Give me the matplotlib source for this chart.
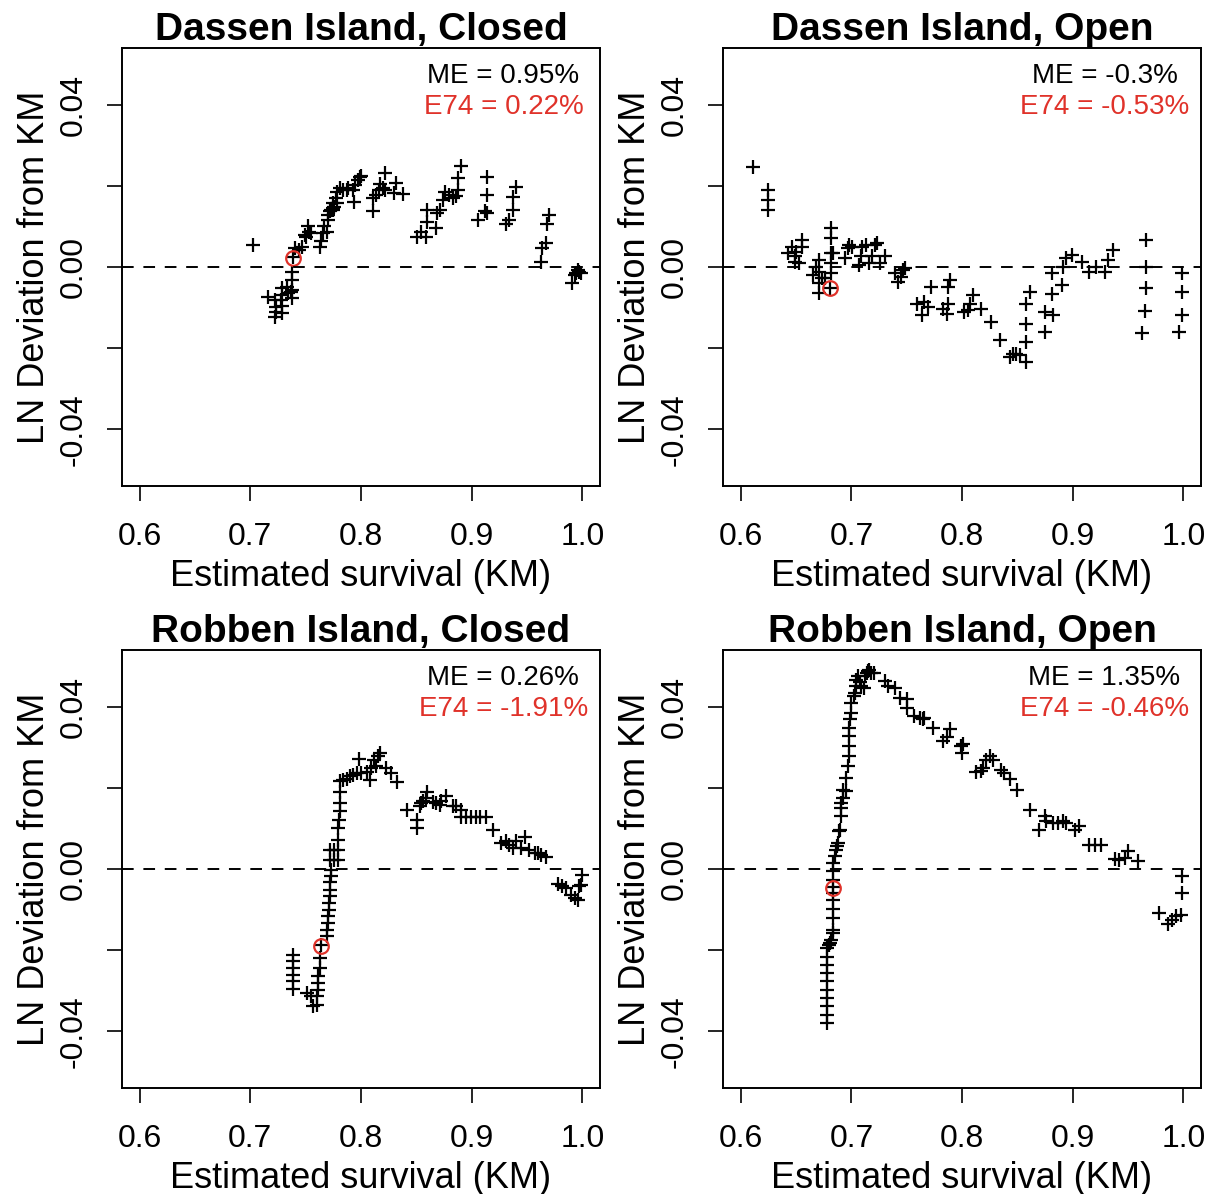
import numpy as np
import matplotlib
matplotlib.use("Agg")
import matplotlib.pyplot as plt

plt.rcParams['font.family'] = ['Liberation Sans', 'DejaVu Sans']

# ---- data ----
titles = ["Dassen Island, Closed", "Dassen Island, Open",
          "Robben Island, Closed", "Robben Island, Open"]
me_labels = ["ME = 0.95%", "ME = -0.3%", "ME = 0.26%", "ME = 1.35%"]
e74_labels = ["E74 = 0.22%", "E74 = -0.53%", "E74 = -1.91%", "E74 = -0.46%"]

# E74 point (red circle) per panel
e74_x = [0.739, 0.681, 0.764, 0.683]
e74_y = [0.0022, -0.0053, -0.0191, -0.0046]

dassen_closed_x = [
    0.702, 0.739, 0.740, 0.744, 0.747, 0.749, 0.752, 0.750, 0.755, 0.753,
    0.738, 0.738, 0.738, 0.738, 0.737, 0.733, 0.734, 0.729, 0.729, 0.728,
    0.729, 0.729, 0.723, 0.723, 0.722, 0.722, 0.716,
    0.763, 0.764, 0.766, 0.769, 0.767, 0.770, 0.770, 0.772, 0.775, 0.776, 0.778,
    0.773, 0.775, 0.775, 0.777, 0.778, 0.781, 0.784, 0.787, 0.788, 0.793,
    0.794, 0.795, 0.797, 0.799, 0.800,
    0.811, 0.811, 0.814, 0.816, 0.817, 0.820, 0.822, 0.822, 0.832, 0.830, 0.838,
    0.851, 0.854, 0.859, 0.860, 0.860, 0.868, 0.869, 0.871, 0.874, 0.876,
    0.880, 0.883, 0.886, 0.888, 0.888, 0.890,
    0.906, 0.912, 0.914, 0.914, 0.914,
    0.931, 0.934, 0.937, 0.937, 0.940,
    0.963, 0.964, 0.967, 0.968, 0.970,
    0.991, 0.993, 0.994, 0.996, 0.997, 0.999,
]
dassen_closed_y = [
    0.0054, 0.0024, 0.0046, 0.0042, 0.0050, 0.0079, 0.0100, 0.0075, 0.0083, 0.0087,
    -0.0012, -0.0032, -0.0057, -0.0077, -0.0061, -0.0049, -0.0065, -0.0053, -0.0069, -0.0081,
    -0.0096, -0.0113, -0.0098, -0.0110, -0.0124, -0.0081, -0.0073,
    0.0050, 0.0063, 0.0083, 0.0087, 0.0100, 0.0116, 0.0128, 0.0137, 0.0141, 0.0149, 0.0159,
    0.0141, 0.0145, 0.0157, 0.0170, 0.0186, 0.0194, 0.0190, 0.0190, 0.0194, 0.0190,
    0.0161, 0.0202, 0.0215, 0.0223, 0.0225,
    0.0137, 0.0170, 0.0178, 0.0190, 0.0205, 0.0194, 0.0190, 0.0231, 0.0207, 0.0182, 0.0180,
    0.0075, 0.0087, 0.0075, 0.0112, 0.0141, 0.0095, 0.0133, 0.0141, 0.0165, 0.0186,
    0.0178, 0.0170, 0.0174, 0.0190, 0.0219, 0.0248,
    0.0116, 0.0137, 0.0133, 0.0178, 0.0223,
    0.0106, 0.0116, 0.0141, 0.0172, 0.0198,
    0.0013, 0.0046, 0.0058, 0.0106, 0.0128,
    -0.0039, -0.0020, -0.0014, -0.0007, -0.0012, -0.0014,
]

dassen_open_x = [
    0.611, 0.625, 0.625, 0.625,
    0.643, 0.646, 0.649, 0.649, 0.650, 0.653, 0.655, 0.655,
    0.665, 0.668, 0.671, 0.671, 0.671, 0.671, 0.673, 0.676, 0.681,
    0.682, 0.682, 0.682, 0.682, 0.682, 0.683,
    0.694, 0.697, 0.698, 0.701, 0.707, 0.709, 0.710, 0.713, 0.716, 0.719,
    0.721, 0.723, 0.726, 0.730,
    0.739, 0.742, 0.745, 0.747, 0.748,
    0.759, 0.764, 0.766, 0.769, 0.772, 0.783, 0.786, 0.787, 0.789, 0.787,
    0.802, 0.805, 0.807, 0.810, 0.817, 0.826,
    0.834, 0.843, 0.846, 0.849, 0.852, 0.858, 0.858, 0.858, 0.858, 0.861,
    0.875, 0.875, 0.882, 0.881, 0.881, 0.890, 0.891, 0.894, 0.899, 0.908,
    0.915, 0.921, 0.929, 0.932, 0.936,
    0.966, 0.966, 0.966, 0.965, 0.963,
    0.999, 0.999, 0.999, 0.996,
]
dassen_open_y = [
    0.0247, 0.0189, 0.0166, 0.0140,
    0.0034, 0.0050, 0.0026, 0.0013, 0.0038, 0.0009, 0.0050, 0.0067,
    -0.0020, 0.0001, 0.0017, -0.0012, -0.0040, -0.0065, -0.0028, -0.0028, -0.0053,
    0.0095, 0.0071, 0.0034, 0.0009, -0.0016, 0.0034,
    0.0021, 0.0046, 0.0054, 0.0050, 0.0005, 0.0026, 0.0050, 0.0054, 0.0009, 0.0026,
    0.0054, 0.0058, 0.0009, 0.0026,
    -0.0016, -0.0036, -0.0024, -0.0007, -0.0003,
    -0.0091, -0.0119, -0.0086, -0.0099, -0.0049, -0.0103, -0.0115, -0.0049, -0.0033, -0.0091,
    -0.0111, -0.0107, -0.0091, -0.0070, -0.0103, -0.0136,
    -0.0181, -0.0222, -0.0214, -0.0214, -0.0218, -0.0235, -0.0185, -0.0140, -0.0091, -0.0062,
    -0.0160, -0.0111, -0.0119, -0.0066, -0.0015, -0.0045, 0.0000, 0.0021, 0.0029, 0.0012,
    -0.0012, 0.0000, -0.0012, 0.0016, 0.0043,
    0.0067, 0.0000, -0.0053, -0.0109, -0.0163,
    -0.0015, -0.0062, -0.0119, -0.0160,
]

robben_closed_x = [
    0.739, 0.739, 0.739, 0.739, 0.739, 0.739,
    0.751, 0.755, 0.757, 0.760, 0.760, 0.761, 0.761, 0.761, 0.763, 0.763, 0.764,
    0.769, 0.769, 0.770, 0.770, 0.771, 0.771, 0.772, 0.772, 0.772, 0.773, 0.773,
    0.772, 0.776, 0.779, 0.772, 0.776, 0.779, 0.779, 0.779, 0.780, 0.781, 0.781,
    0.781, 0.781, 0.784, 0.787, 0.790, 0.793, 0.796, 0.800, 0.805, 0.808, 0.809,
    0.814, 0.812, 0.815, 0.817, 0.798, 0.823, 0.827, 0.833,
    0.842, 0.851, 0.851, 0.853, 0.854, 0.856, 0.860, 0.859, 0.865, 0.868, 0.871,
    0.872, 0.877, 0.883, 0.886, 0.890, 0.890, 0.895, 0.899, 0.904, 0.908, 0.913,
    0.919, 0.927, 0.931, 0.934, 0.937, 0.940, 0.945, 0.948, 0.952, 0.957, 0.960,
    0.963, 0.967,
    0.978, 0.982, 0.985, 0.990, 0.993, 0.996, 0.997, 1.000, 0.999,
]
robben_closed_y = [
    -0.0212, -0.0228, -0.0244, -0.0261, -0.0277, -0.0296,
    -0.0306, -0.0314, -0.0339, -0.0335, -0.0314, -0.0298, -0.0281, -0.0265, -0.0244, -0.0220, -0.0187,
    -0.0166, -0.0150, -0.0133, -0.0117, -0.0100, -0.0084, -0.0067, -0.0051, -0.0033, -0.0018, -0.0002,
    0.0023, 0.0023, 0.0023, 0.0046, 0.0048, 0.0048, 0.0072, 0.0101, 0.0122, 0.0142, 0.0163,
    0.0189, 0.0216, 0.0219, 0.0222, 0.0230, 0.0233, 0.0237, 0.0237, 0.0239, 0.0219, 0.0249,
    0.0253, 0.0268, 0.0278, 0.0285, 0.0272, 0.0249, 0.0237, 0.0214,
    0.0146, 0.0122, 0.0101, 0.0155, 0.0163, 0.0167, 0.0189, 0.0175, 0.0165, 0.0163, 0.0159,
    0.0167, 0.0179, 0.0155, 0.0155, 0.0146, 0.0128, 0.0128, 0.0128, 0.0128, 0.0128, 0.0128,
    0.0095, 0.0064, 0.0068, 0.0060, 0.0052, 0.0068, 0.0052, 0.0079, 0.0046, 0.0040, 0.0040,
    0.0035, 0.0030,
    -0.0036, -0.0043, -0.0047, -0.0063, -0.0072, -0.0076, -0.0041, -0.0014, -0.0039,
]

robben_open_x = [
    0.678, 0.678, 0.678, 0.678, 0.678, 0.678, 0.678, 0.678, 0.678, 0.678,
    0.680, 0.681, 0.682, 0.683, 0.683, 0.683, 0.683, 0.683, 0.683, 0.683,
    0.683, 0.683, 0.683, 0.685, 0.686, 0.687, 0.688, 0.689, 0.690, 0.691,
    0.691, 0.691, 0.692, 0.692, 0.695, 0.695, 0.697, 0.698, 0.698, 0.698,
    0.698, 0.699, 0.700, 0.700, 0.702, 0.703, 0.704, 0.704, 0.706, 0.708,
    0.709, 0.711, 0.712, 0.714, 0.715, 0.716, 0.718, 0.720,
    0.730, 0.733, 0.739, 0.744, 0.750, 0.750, 0.757, 0.762, 0.765, 0.766,
    0.774, 0.783, 0.786, 0.789, 0.799, 0.800, 0.801,
    0.813, 0.817, 0.819, 0.822, 0.825, 0.828, 0.835, 0.838, 0.843, 0.850,
    0.861, 0.870, 0.875, 0.876, 0.882, 0.887, 0.891, 0.894, 0.902, 0.906,
    0.915, 0.920, 0.926, 0.938, 0.942, 0.947, 0.950, 0.959,
    0.999, 0.999, 0.998, 0.993, 0.990, 0.986, 0.978,
]
robben_open_y = [
    -0.0380, -0.0360, -0.0339, -0.0319, -0.0298, -0.0277, -0.0257, -0.0236, -0.0216, -0.0195,
    -0.0187, -0.0183, -0.0174, -0.0158, -0.0150, -0.0121, -0.0099, -0.0077, -0.0059, -0.0044,
    -0.0026, -0.0006, 0.0015, 0.0031, 0.0048, 0.0056, 0.0064, 0.0093, 0.0097, 0.0130,
    0.0151, 0.0163, 0.0175, 0.0196, 0.0192, 0.0225, 0.0253, 0.0278, 0.0303, 0.0328,
    0.0348, 0.0369, 0.0385, 0.0410, 0.0426, 0.0435, 0.0451, 0.0467, 0.0476, 0.0461,
    0.0451, 0.0447, 0.0476, 0.0484, 0.0488, 0.0491, 0.0484, 0.0484,
    0.0463, 0.0451, 0.0447, 0.0422, 0.0418, 0.0398, 0.0377, 0.0373, 0.0369, 0.0373,
    0.0348, 0.0315, 0.0326, 0.0344, 0.0303, 0.0286, 0.0307,
    0.0239, 0.0241, 0.0249, 0.0270, 0.0278, 0.0270, 0.0245, 0.0237, 0.0221, 0.0196,
    0.0146, 0.0097, 0.0130, 0.0118, 0.0114, 0.0114, 0.0118, 0.0114, 0.0097, 0.0105,
    0.0060, 0.0060, 0.0060, 0.0025, 0.0023, 0.0027, 0.0044, 0.0019,
    -0.0018, -0.0059, -0.0113, -0.0117, -0.0125, -0.0135, -0.0109,
]

panels_x = [dassen_closed_x, dassen_open_x, robben_closed_x, robben_open_x]
panels_y = [dassen_closed_y, dassen_open_y, robben_closed_y, robben_open_y]

x_ticks = [0.6, 0.7, 0.8, 0.9, 1.0]
y_ticks = [-0.04, -0.02, 0.00, 0.02, 0.04]
y_ticklabels = ["-0.04", "", "0.00", "", "0.04"]

RED = '#e0322a'

fig = plt.figure(figsize=(12.16, 11.94), dpi=100)

# axes boxes in figure fractions (left, bottom)
W, H = 0.3931, 0.3668
positions = [(0.1003, 0.5930), (0.5946, 0.5930),
             (0.1003, 0.0888), (0.5946, 0.0888)]

for i, (left, bottom) in enumerate(positions):
    ax = fig.add_axes([left, bottom, W, H])
    ax.plot(panels_x[i], panels_y[i], linestyle='none', marker='+',
            color='black', markersize=10, markeredgewidth=1.6)
    ax.plot([e74_x[i]], [e74_y[i]], linestyle='none', marker='o',
            markerfacecolor='none', markeredgecolor=RED,
            markersize=10.5, markeredgewidth=1.6)
    ax.axhline(0, color='black', lw=1.4, linestyle=(0, (6, 5)))

    ax.set_xlim(0.584, 1.016)
    ax.set_ylim(-0.054, 0.054)
    ax.set_xticks(x_ticks)
    ax.set_xticklabels([f"{t:.1f}" for t in x_ticks])
    ax.set_yticks(y_ticks)
    ax.set_yticklabels(y_ticklabels)
    for lab in ax.get_yticklabels():
        lab.set_rotation(90)
        lab.set_va('center')
    ax.tick_params(axis='both', direction='out', length=11, width=1.2,
                   labelsize=23)
    ax.tick_params(axis='x', pad=15)
    ax.tick_params(axis='y', pad=13)
    for sp in ax.spines.values():
        sp.set_linewidth(1.4)

    ax.set_xlabel("Estimated survival (KM)", fontsize=26, labelpad=5)
    ax.set_ylabel("LN Deviation from KM", fontsize=26, labelpad=5)
    ax.set_title(titles[i], fontsize=28, fontweight='bold', pad=6)

    ax.text(0.9287, 0.047, me_labels[i], ha='center', va='center',
            fontsize=20, color='black')
    ax.text(0.9287, 0.0395, e74_labels[i], ha='center', va='center',
            fontsize=20, color=RED)

fig.savefig("out.png", dpi=100)
